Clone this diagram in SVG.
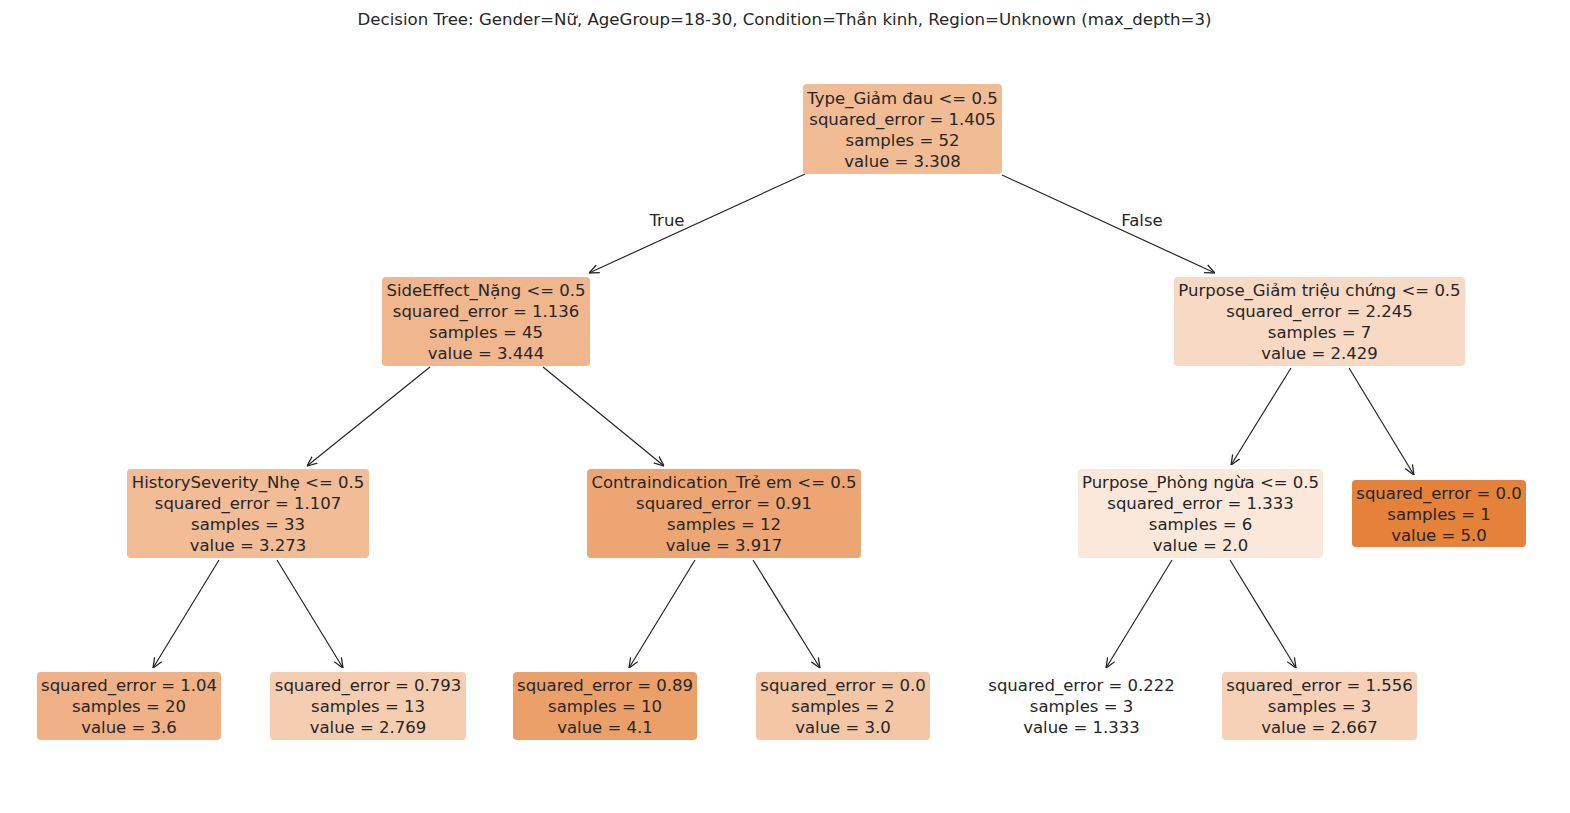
<svg xmlns="http://www.w3.org/2000/svg" width="1570" height="813" viewBox="0 0 1570 813">
<defs>
<marker id="ah" viewBox="0 0 10 10" refX="10" refY="5" markerWidth="10" markerHeight="10" markerUnits="userSpaceOnUse" orient="auto">
<path d="M0,0.8 L10,5 L0,9.2" fill="none" stroke="#262626" stroke-width="1.3"/>
</marker>
</defs>
<style>
text{font-family:"DejaVu Sans",sans-serif;fill:#262626;text-anchor:middle}
.n text{font-size:16.5px}
.b{stroke:none}
.c line{stroke:#262626;stroke-width:1.2;marker-end:url(#ah)}
.lab{font-size:16.5px}
</style>
<rect width="1570" height="813" fill="#ffffff"/>
<text x="784.5" y="25" font-size="16.6">Decision Tree: Gender=Nữ, AgeGroup=18-30, Condition=Thần kinh, Region=Unknown (max_depth=3)</text>
<g class="c" id="connectors">
<line x1="805" y1="174" x2="589" y2="273"/>
<line x1="1002" y1="175" x2="1215" y2="273"/>
<line x1="430" y1="367" x2="307" y2="466"/>
<line x1="543" y1="367" x2="664" y2="466"/>
<line x1="1291" y1="368" x2="1231" y2="465"/>
<line x1="1349" y1="368" x2="1414" y2="475"/>
<line x1="219" y1="560" x2="153" y2="668"/>
<line x1="277" y1="560" x2="343" y2="668"/>
<line x1="695" y1="560" x2="629" y2="668"/>
<line x1="753" y1="560" x2="820" y2="668"/>
<line x1="1172" y1="560" x2="1106" y2="668"/>
<line x1="1230" y1="560" x2="1296" y2="668"/>
<text class="lab" x="667" y="226">True</text>
<text class="lab" x="1142" y="226">False</text>
</g>
<g class="n" id="n0">
<rect class="b" x="803" y="84" width="199" height="90" rx="4" fill="#f1bb94"/>
<text x="902.5" y="104">Type_Giảm đau &lt;= 0.5</text>
<text x="902.5" y="125">squared_error = 1.405</text>
<text x="902.5" y="146">samples = 52</text>
<text x="902.5" y="167">value = 3.308</text>
</g>
<g class="n" id="n1">
<rect class="b" x="382" y="277" width="208" height="89" rx="4" fill="#f0b68d"/>
<text x="486" y="296">SideEffect_Nặng &lt;= 0.5</text>
<text x="486" y="317">squared_error = 1.136</text>
<text x="486" y="338">samples = 45</text>
<text x="486" y="359">value = 3.444</text>
</g>
<g class="n" id="n2">
<rect class="b" x="127" y="469" width="242" height="89" rx="4" fill="#f1bc96"/>
<text x="248" y="488">HistorySeverity_Nhẹ &lt;= 0.5</text>
<text x="248" y="509">squared_error = 1.107</text>
<text x="248" y="530">samples = 33</text>
<text x="248" y="551">value = 3.273</text>
</g>
<g class="n" id="n3">
<rect class="b" x="37" y="672" width="184" height="68" rx="4" fill="#efb185"/>
<text x="129" y="691">squared_error = 1.04</text>
<text x="129" y="712">samples = 20</text>
<text x="129" y="733">value = 3.6</text>
</g>
<g class="n" id="n4">
<rect class="b" x="270" y="672" width="196" height="68" rx="4" fill="#f5ceb1"/>
<text x="368" y="691">squared_error = 0.793</text>
<text x="368" y="712">samples = 13</text>
<text x="368" y="733">value = 2.769</text>
</g>
<g class="n" id="n5">
<rect class="b" x="587" y="469" width="274" height="89" rx="4" fill="#eda673"/>
<text x="724" y="488">Contraindication_Trẻ em &lt;= 0.5</text>
<text x="724" y="509">squared_error = 0.91</text>
<text x="724" y="530">samples = 12</text>
<text x="724" y="551">value = 3.917</text>
</g>
<g class="n" id="n6">
<rect class="b" x="513" y="672" width="184" height="68" rx="4" fill="#eba06a"/>
<text x="605" y="691">squared_error = 0.89</text>
<text x="605" y="712">samples = 10</text>
<text x="605" y="733">value = 4.1</text>
</g>
<g class="n" id="n7">
<rect class="b" x="756" y="672" width="174" height="68" rx="4" fill="#f3c6a5"/>
<text x="843" y="691">squared_error = 0.0</text>
<text x="843" y="712">samples = 2</text>
<text x="843" y="733">value = 3.0</text>
</g>
<g class="n" id="n8">
<rect class="b" x="1174" y="277" width="291" height="89" rx="4" fill="#f7d9c4"/>
<text x="1319.5" y="296">Purpose_Giảm triệu chứng &lt;= 0.5</text>
<text x="1319.5" y="317">squared_error = 2.245</text>
<text x="1319.5" y="338">samples = 7</text>
<text x="1319.5" y="359">value = 2.429</text>
</g>
<g class="n" id="n9">
<rect class="b" x="1078" y="469" width="245" height="89" rx="4" fill="#fae8db"/>
<text x="1200.5" y="488">Purpose_Phòng ngừa &lt;= 0.5</text>
<text x="1200.5" y="509">squared_error = 1.333</text>
<text x="1200.5" y="530">samples = 6</text>
<text x="1200.5" y="551">value = 2.0</text>
</g>
<g class="n" id="n10">
<rect class="b" x="985" y="672" width="193" height="68" rx="4" fill="#ffffff"/>
<text x="1081.5" y="691">squared_error = 0.222</text>
<text x="1081.5" y="712">samples = 3</text>
<text x="1081.5" y="733">value = 1.333</text>
</g>
<g class="n" id="n11">
<rect class="b" x="1222" y="672" width="195" height="68" rx="4" fill="#f6d1b7"/>
<text x="1319.5" y="691">squared_error = 1.556</text>
<text x="1319.5" y="712">samples = 3</text>
<text x="1319.5" y="733">value = 2.667</text>
</g>
<g class="n" id="n12">
<rect class="b" x="1352" y="480" width="174" height="67" rx="4" fill="#e58139"/>
<text x="1439" y="499">squared_error = 0.0</text>
<text x="1439" y="520">samples = 1</text>
<text x="1439" y="541">value = 5.0</text>
</g>
</svg>
